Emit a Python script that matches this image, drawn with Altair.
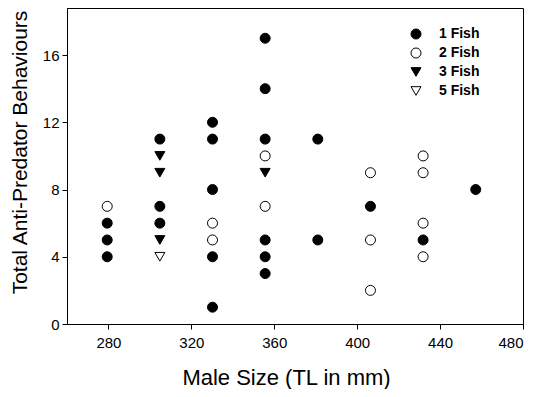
import altair as alt
import pandas as pd

# data (x = male size in mm, y = total anti-predator behaviours)
one_x = [279.4, 279.4, 279.4, 304.8, 304.8, 304.8, 330.2, 330.2, 330.2, 330.2, 330.2,
         355.6, 355.6, 355.6, 355.6, 355.6, 355.6, 381.0, 381.0, 406.4, 431.8, 457.2]
one_y = [6, 5, 4, 11, 7, 6, 12, 11, 8, 4, 1, 17, 14, 11, 5, 4, 3, 11, 5, 7, 5, 8]
two_x = [279.4, 330.2, 330.2, 355.6, 355.6, 406.4, 406.4, 406.4, 431.8, 431.8, 431.8, 431.8]
two_y = [7, 6, 5, 10, 7, 9, 5, 2, 10, 9, 6, 4]
three_x = [304.8, 304.8, 304.8, 355.6]
three_y = [10, 9, 5, 9]
five_x = [304.8]
five_y = [4]

groups = ["1 Fish", "2 Fish", "3 Fish", "5 Fish"]
shapes = ["circle", "circle", "triangle-down", "triangle-down"]
fills = ["black", "white", "black", "white"]
strokes = ["black", "black", "black", "black"]

rows = []
for g, xs, ys in zip(groups, [one_x, two_x, three_x, five_x], [one_y, two_y, three_y, five_y]):
    for a, b in zip(xs, ys):
        rows.append({"size": a, "count": b, "group": g})
df = pd.DataFrame(rows)

FONT = "Liberation Sans"

leg = alt.Legend(title=None, orient="none", legendX=342, legendY=19,
                 labelFontSize=14, labelFontWeight="bold",
                 labelOffset=16, rowPadding=5, symbolSize=100,
                 symbolStrokeWidth=1, padding=0)

chart = alt.Chart(df).mark_point(
    filled=False, size=100, strokeWidth=1, opacity=1
).encode(
    x=alt.X("size:Q", scale=alt.Scale(domain=[260, 480], nice=False, zero=False),
            axis=alt.Axis(title="Male Size (TL in mm)", values=[280, 320, 360, 400, 440, 480],
                          grid=False, tickSize=5, labelPadding=6, labelFontSize=15,
                          titleFontSize=22, titleFontWeight="normal",
                          titleX=219, titleY=60, titleBaseline="alphabetic", titleAlign="center")),
    y=alt.Y("count:Q", scale=alt.Scale(domain=[0, 18.8], nice=False),
            axis=alt.Axis(title="Total Anti-Predator Behaviours", values=[0, 4, 8, 12, 16],
                          grid=False, tickSize=5, labelPadding=3, labelFontSize=15,
                          titleFontSize=21, titleFontWeight="normal",
                          titleX=-41, titleY=144, titleBaseline="alphabetic", titleAlign="center",
                          titleAngle=-90)),
    shape=alt.Shape("group:N", scale=alt.Scale(domain=groups, range=shapes), legend=leg),
    fill=alt.Fill("group:N", scale=alt.Scale(domain=groups, range=fills), legend=leg),
    stroke=alt.Stroke("group:N", scale=alt.Scale(domain=groups, range=strokes), legend=leg),
).properties(
    width=456, height=316,
    padding={"left": 59, "top": 0, "right": 7, "bottom": 65},
    autosize=alt.AutoSizeParams(type="none"),
).configure(
    font=FONT,
).configure_axis(
    domainColor="black", tickColor="black", labelColor="black", titleColor="black",
    labelFont=FONT, titleFont=FONT,
).configure_view(
    stroke="black", strokeWidth=1,
).configure_legend(
    labelFont=FONT, labelColor="black",
)

chart.save("out.html", embed_options={"renderer": "svg", "actions": False})
